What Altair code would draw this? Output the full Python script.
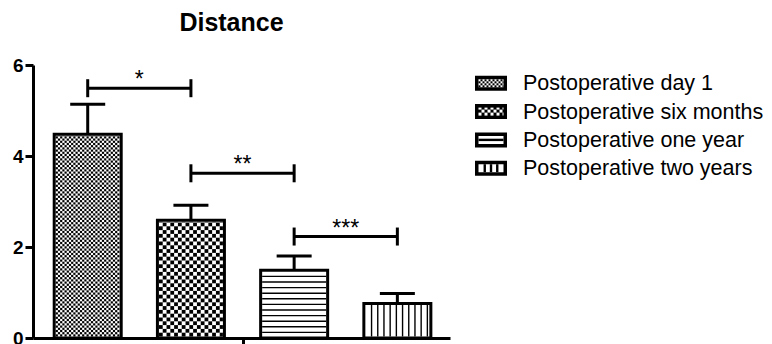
import math
import altair as alt
import pandas as pd

# ---------------- data ----------------
groups = ["Postoperative day 1", "Postoperative six months",
          "Postoperative one year", "Postoperative two years"]
means = [4.48, 2.59, 1.49, 0.76]
sems = [0.66, 0.33, 0.31, 0.22]
pair_left = [0, 1, 2]
pair_right = [1, 2, 3]
pair_height = [5.49, 3.62, 2.23]
pair_label = ["*", "**", "***"]
y_ticks = [0, 2, 4, 6]
chart_title = "Distance"

# ---------------- layout / style ----------------
W, H = 417, 273
X_DOM = [-0.53, 3.51]
Y_DOM = [0, 6]
PXX = W / (X_DOM[1] - X_DOM[0])
PXY = H / (Y_DOM[1] - Y_DOM[0])
FONT = "Liberation Sans"
HALF = 33.5 / PXX        # half bar width (stroke centre)
CAP = 17.5 / PXX         # half error cap width
TICK = 9 / PXY           # bracket end tick half length
IN_X = 1.5 / PXX
IN_Y = 1.5 / PXY
patterns = ["checker:2.2", "checker:3.8", "hlines:5.6", "vlines:6.2"]
legend_patterns = ["lchecker:2.0", "lchecker_inv:3.0", "lh", "lv"]
LEG_X_PX = 442
LEG_W_PX = 32
LEG_H_PX = 15
LEG_SW = 3.5
LEG_Y0_PX = 18.3
LEG_DY_PX = 28.3
LEG_TEXT_PX = 490


def ux(px):
    return X_DOM[0] + px / PXX


def uy(px):
    return Y_DOM[1] - px / PXY


xs = alt.Scale(domain=X_DOM, nice=False, zero=False)
ys = alt.Scale(domain=Y_DOM, nice=False, zero=False)
x_axis = alt.Axis(values=[1.5], labels=False, title=None, grid=False,
                  domainColor="black", domainWidth=3, tickColor="black",
                  tickWidth=3, tickSize=12)
y_axis = alt.Axis(values=y_ticks, title=None, grid=False, format="d",
                  labelFont=FONT, labelFontWeight="bold", labelFontSize=19,
                  labelColor="black", domainColor="black", domainWidth=3,
                  tickColor="black", tickWidth=3, tickSize=8, labelPadding=2)


def X(f):
    return alt.X(f, type="quantitative", scale=xs, axis=x_axis)


def Y(f):
    return alt.Y(f, type="quantitative", scale=ys, axis=y_axis)


# ---------------- build mark tables ----------------
boxes = []   # bars (fill + outline)
lboxes = []  # legend swatches
cells = []   # pattern rectangles
thin = []    # pattern lines


def checker(x0, x1, y0, y1, cpx, color):
    cx, cy = cpx / PXX, cpx / PXY
    cols = math.ceil((x1 - x0) / cx)
    rows = math.ceil((y1 - y0) / cy)
    for r in range(rows):
        for k in range(cols):
            if (r + k) % 2 == 0:
                a = x0 + k * cx
                b = y0 + r * cy
                cells.append({"x": a, "x2": min(a + cx, x1),
                              "y": b, "y2": min(b + cy, y1), "fill": color})


for i, (g, m) in enumerate(zip(groups, means)):
    boxes.append({"x": i - HALF, "x2": i + HALF, "y": 0, "y2": m,
                  "fill": "white"})
    x0, x1 = i - HALF + IN_X, i + HALF - IN_X
    y0, y1 = IN_Y, m - IN_Y
    kind, val = patterns[i].split(":")
    val = float(val)
    if kind == "checker":
        checker(x0, x1, y0, y1, val, "black")
    elif kind == "hlines":
        k = 1
        while k * val / PXY < y1 - 0.5 / PXY:
            yy = k * val / PXY
            thin.append({"x": x0, "x2": x1, "y": yy, "y2": yy, "w": 1.4})
            k += 1
    else:
        k = 1
        while x0 + k * val / PXX < x1 - 1 / PXX:
            xx = x0 + k * val / PXX
            thin.append({"x": xx, "x2": xx, "y": y0, "y2": y1, "w": 1.4})
            k += 1

# legend swatches
legend_text = []
h = LEG_SW / 2
for k, g in enumerate(groups):
    cy = LEG_Y0_PX + k * LEG_DY_PX
    lx0, lx1 = LEG_X_PX + h, LEG_X_PX + LEG_W_PX - h
    ly0, ly1 = cy - LEG_H_PX / 2 + h, cy + LEG_H_PX / 2 - h
    p = legend_patterns[k]
    base = "black" if p.startswith("lchecker_inv") else "white"
    lboxes.append({"x": ux(lx0), "x2": ux(lx1), "y": uy(ly1), "y2": uy(ly0),
                   "fill": base})
    ix0, ix1 = ux(lx0 + h), ux(lx1 - h)
    iy0, iy1 = uy(ly1 - h), uy(ly0 + h)
    if p.startswith("lchecker_inv"):
        checker(ix0, ix1, iy0, iy1, float(p.split(":")[1]), "white")
    elif p.startswith("lchecker"):
        checker(ix0, ix1, iy0, iy1, float(p.split(":")[1]), "black")
    elif p == "lh":
        thin.append({"x": ix0, "x2": ix1, "y": uy(cy), "y2": uy(cy), "w": 2.4})
    else:
        for j in range(1, 4):
            xx = ux(lx0 + h + j * (lx1 - lx0 - 2 * h) / 4)
            thin.append({"x": xx, "x2": xx, "y": iy0, "y2": iy1, "w": 2.4})
    legend_text.append({"x": ux(LEG_TEXT_PX), "y": uy(cy + 1), "label": g})

# error bars and brackets
thick = []
for i, (m, s) in enumerate(zip(means, sems)):
    thick.append({"x": i, "x2": i, "y": m, "y2": m + s})
    thick.append({"x": i - CAP, "x2": i + CAP, "y": m + s, "y2": m + s})
stars = []
for l, r, hh, lab in zip(pair_left, pair_right, pair_height, pair_label):
    thick.append({"x": l, "x2": r, "y": hh, "y2": hh})
    thick.append({"x": l, "x2": l, "y": hh - TICK, "y2": hh + TICK})
    thick.append({"x": r, "x2": r, "y": hh - TICK, "y2": hh + TICK})
    stars.append({"x": (l + r) / 2, "y": hh, "label": lab})

# ---------------- layers ----------------
box_layer = alt.Chart(pd.DataFrame(boxes)).mark_rect(
    stroke="black", strokeWidth=3).encode(
    x=X("x"), x2="x2", y=Y("y"), y2="y2",
    fill=alt.Fill("fill:N", scale=None))

lbox_layer = alt.Chart(pd.DataFrame(lboxes)).mark_rect(
    stroke="black", strokeWidth=LEG_SW).encode(
    x=X("x"), x2="x2", y=Y("y"), y2="y2",
    fill=alt.Fill("fill:N", scale=None))

cell_layer = alt.Chart(pd.DataFrame(cells)).mark_rect().encode(
    x=X("x"), x2="x2", y=Y("y"), y2="y2",
    fill=alt.Fill("fill:N", scale=None))

thin_layer = alt.Chart(pd.DataFrame(thin)).mark_rule(color="black").encode(
    x=X("x"), x2="x2", y=Y("y"), y2="y2",
    strokeWidth=alt.StrokeWidth("w:Q", scale=None))

thick_layer = alt.Chart(pd.DataFrame(thick)).mark_rule(
    color="black", strokeWidth=3).encode(
    x=X("x"), x2="x2", y=Y("y"), y2="y2")

star_layer = alt.Chart(pd.DataFrame(stars)).mark_text(
    font=FONT, fontSize=23, baseline="alphabetic", align="center",
    dy=-1, color="black").encode(x=X("x"), y=Y("y"), text="label:N")

legend_layer = alt.Chart(pd.DataFrame(legend_text)).mark_text(
    font=FONT, fontSize=21.5, baseline="middle", align="left",
    color="black").encode(x=X("x"), y=Y("y"), text="label:N")

chart = alt.layer(
    box_layer, lbox_layer, cell_layer, thin_layer, thick_layer,
    star_layer, legend_layer
).properties(
    width=W, height=H,
    autosize=alt.AutoSizeParams(type="none"),
    padding={"left": 25, "top": 57, "right": 314, "bottom": 14},
    title=alt.TitleParams(chart_title, font=FONT, fontSize=25,
                          fontWeight="bold", color="black", anchor="middle",
                          frame="group", dx=-10, offset=20),
    background="white",
).configure_view(stroke=None).configure_axis(
    labelFont=FONT, labelFontSize=19, labelFontWeight="bold",
    labelColor="black")

chart.save("out.html", embed_options={"renderer": "svg", "actions": False})
